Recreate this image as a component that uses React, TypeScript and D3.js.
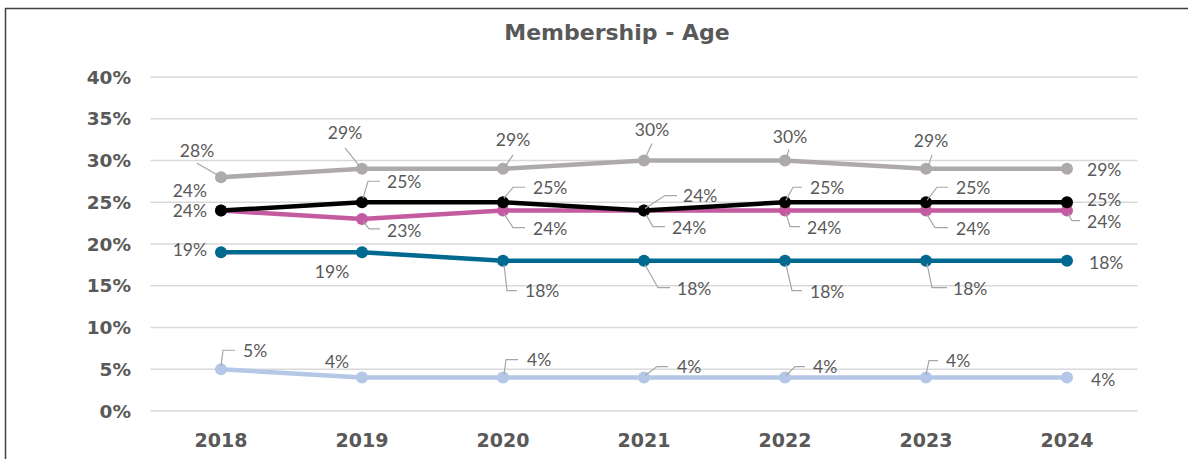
import * as d3 from 'd3';

const years = ['2018', '2019', '2020', '2021', '2022', '2023', '2024'];
const greyValues = [0.28, 0.29, 0.29, 0.3, 0.3, 0.29, 0.29];
const blackValues = [0.24, 0.25, 0.25, 0.24, 0.25, 0.25, 0.25];
const pinkValues = [0.24, 0.23, 0.24, 0.24, 0.24, 0.24, 0.24];
const tealValues = [0.19, 0.19, 0.18, 0.18, 0.18, 0.18, 0.18];
const blueValues = [0.05, 0.04, 0.04, 0.04, 0.04, 0.04, 0.04];
const yTicks = [0, 0.05, 0.1, 0.15, 0.2, 0.25, 0.3, 0.35, 0.4];

type Lbl = { dx: number; dy: number; a: 'start' | 'middle' | 'end'; lead?: number[][] };

// label placement relative to each point (manually placed in the original)
const greyLabels: Lbl[] = [
  { dx: -24, dy: -27, a: 'middle', lead: [[-24, -14], [-3, -2]] },
  { dx: -17, dy: -36, a: 'middle', lead: [[-17, -21], [-2, -2]] },
  { dx: 10, dy: -29, a: 'middle', lead: [[10, -14], [2, -2]] },
  { dx: 8, dy: -31, a: 'middle', lead: [[8, -17], [1, -2]] },
  { dx: 5, dy: -24, a: 'middle', lead: [[4, -11], [1, -2]] },
  { dx: 5, dy: -28, a: 'middle', lead: [[6, -14], [2, -2]] },
  { dx: 20, dy: 1, a: 'start' },
];
const blackLabels: Lbl[] = [
  { dx: -14, dy: -20, a: 'end' },
  { dx: 25, dy: -21, a: 'start', lead: [[1, -4], [6, -21], [18, -21]] },
  { dx: 30, dy: -15, a: 'start', lead: [[1, -4], [10, -15], [22, -15]] },
  { dx: 39, dy: -15, a: 'start', lead: [[1, -2], [21, -15], [33, -15]] },
  { dx: 25, dy: -15, a: 'start', lead: [[1, -2], [8, -15], [17, -15]] },
  { dx: 30, dy: -15, a: 'start', lead: [[1, -2], [11, -15], [22, -15]] },
  { dx: 20, dy: -3, a: 'start' },
];
const pinkLabels: Lbl[] = [
  { dx: -14, dy: 0, a: 'end' },
  { dx: 25, dy: 12, a: 'start', lead: [[1, 2], [7, 10], [18, 10]] },
  { dx: 30, dy: 18, a: 'start', lead: [[1, 3], [10, 17], [22, 17]] },
  { dx: 28, dy: 17, a: 'start', lead: [[2, 4], [9, 16], [21, 16]] },
  { dx: 22, dy: 17, a: 'start', lead: [[1, 3], [5, 16], [15, 16]] },
  { dx: 30, dy: 18, a: 'start', lead: [[1, 4], [9, 17], [22, 17]] },
  { dx: 20, dy: 11, a: 'start', lead: [[1, 3], [5, 10], [13, 10]] },
];
const tealLabels: Lbl[] = [
  { dx: -14, dy: -3, a: 'end' },
  { dx: -30, dy: 19, a: 'middle' },
  { dx: 22, dy: 30, a: 'start', lead: [[1, 4], [4, 30], [14, 30]] },
  { dx: 33, dy: 28, a: 'start', lead: [[1, 4], [14, 27], [26, 27]] },
  { dx: 25, dy: 31, a: 'start', lead: [[1, 4], [7, 30], [17, 30]] },
  { dx: 27, dy: 28, a: 'start', lead: [[1, 3], [6, 27], [21, 27]] },
  { dx: 22, dy: 2, a: 'start' },
];
const blueLabels: Lbl[] = [
  { dx: 22, dy: -19, a: 'start', lead: [[0, -3], [2, -19], [14, -19]] },
  { dx: -25, dy: -16, a: 'middle' },
  { dx: 24, dy: -18, a: 'start', lead: [[1, -3], [3, -18], [15, -18]] },
  { dx: 33, dy: -11, a: 'start', lead: [[1, -2], [13, -11], [24, -11]] },
  { dx: 28, dy: -11, a: 'start', lead: [[1, -2], [10, -11], [20, -11]] },
  { dx: 20, dy: -17, a: 'start', lead: [[0, -3], [3, -17], [12, -17]] },
  { dx: 24, dy: 2, a: 'start' },
];

const series = [
  { name: 'grey', color: '#AEAAAA', values: greyValues, labels: greyLabels },
  { name: 'blue', color: '#B4C7E7', values: blueValues, labels: blueLabels },
  { name: 'teal', color: '#00698F', values: tealValues, labels: tealLabels },
  { name: 'pink', color: '#C45A9F', values: pinkValues, labels: pinkLabels },
  { name: 'black', color: '#000000', values: blackValues, labels: blackLabels },
];

const W = 1188;
const H = 459;
const labelFont = 'Lato, "DejaVu Sans", sans-serif';
const boldFont = '"DejaVu Sans", sans-serif';

export default function App() {
  const x = d3.scaleBand().domain(years).range([150.5, 1137.5]);
  const cx = (d: string) => (x(d) ?? 0) + x.bandwidth() / 2;
  const y = d3.scaleLinear().domain([0, 0.4]).range([411, 77]);
  const fmt = d3.format('.0%');
  const line = d3
    .line<number>()
    .x((_, i) => cx(years[i]))
    .y(d => y(d));

  return (
    <svg
      width={W}
      height={H}
      style={{ position: 'absolute', left: 0, top: 0, background: '#fff' }}
    >
      <rect x={5.5} y={8.5} width={W + 20} height={H + 20} fill="#fff" stroke="#404040" strokeWidth={1.5} />
      <text
        x={617}
        y={40}
        textAnchor="middle"
        fontFamily={boldFont}
        fontWeight="bold"
        fontSize={22}
        fill="#595959"
      >
        Membership - Age
      </text>

      {yTicks.map(t => (
        <g key={t}>
          <line x1={150.5} x2={1137.5} y1={y(t)} y2={y(t)} stroke="#D9D9D9" strokeWidth={1.5} />
          <text
            x={131}
            y={y(t)}
            dy="0.36em"
            textAnchor="end"
            fontFamily={boldFont}
            fontWeight="bold"
            fontSize={18.5}
            fill="#595959"
          >
            {fmt(t)}
          </text>
        </g>
      ))}

      {years.map(yr => (
        <text
          key={yr}
          x={cx(yr)}
          y={447}
          textAnchor="middle"
          fontFamily={boldFont}
          fontWeight="bold"
          fontSize={19}
          fill="#595959"
        >
          {yr}
        </text>
      ))}

      {series.map(s => (
        <g key={s.name}>
          <path d={line(s.values) ?? ''} fill="none" stroke={s.color} strokeWidth={4.5} strokeLinejoin="round" />
          {s.values.map((v, i) => (
            <circle key={i} cx={cx(years[i])} cy={y(v)} r={6} fill={s.color} />
          ))}
        </g>
      ))}

      {series.map(s => (
        <g key={s.name + '-labels'}>
          {s.values.map((v, i) => {
            const px = cx(years[i]);
            const py = y(v);
            const l = s.labels[i];
            return (
              <g key={i}>
                {l.lead && (
                  <polyline
                    points={l.lead.map(p => `${px + p[0]},${py + p[1]}`).join(' ')}
                    fill="none"
                    stroke="#A6A6A6"
                    strokeWidth={1.2}
                  />
                )}
                <text
                  x={px + l.dx}
                  y={py + l.dy}
                  dy="0.36em"
                  textAnchor={l.a}
                  fontFamily={labelFont}
                  fontWeight={400}
                  fontSize={17.5}
                  fill="#595959"
                >
                  {fmt(v)}
                </text>
              </g>
            );
          })}
        </g>
      ))}
    </svg>
  );
}
